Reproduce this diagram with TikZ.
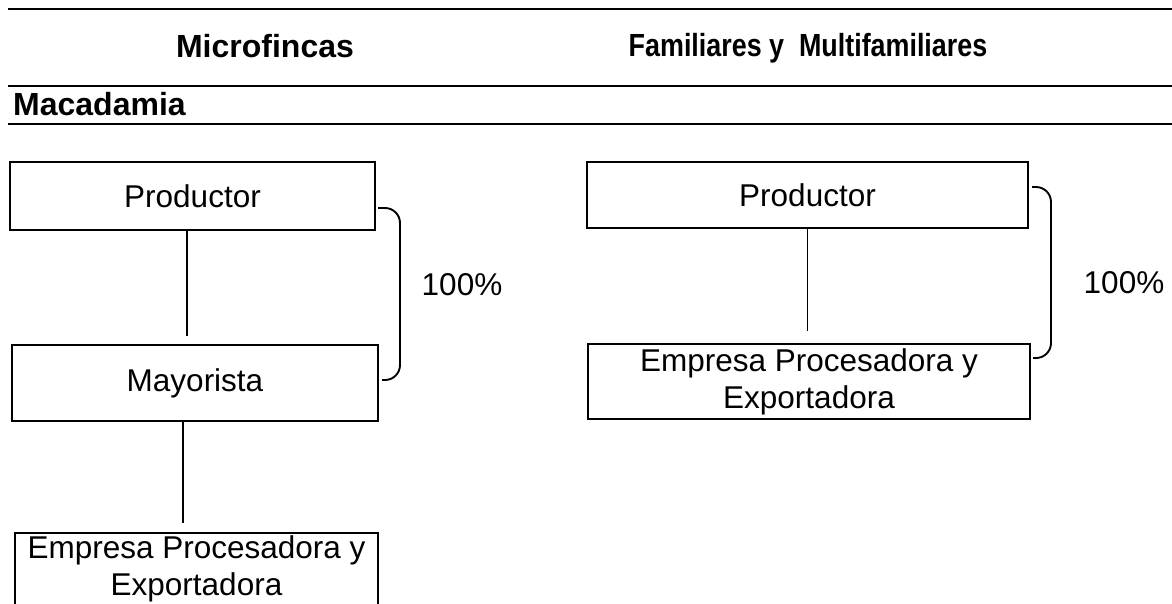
\documentclass[tikz,border=0pt]{standalone}
\usepackage{fontspec}
\setmainfont{Liberation Sans}
\newcommand\bodyfont{\fontsize{31.5}{37}\selectfont}
\newcommand\headfont{\fontsize{32}{38}\selectfont\bfseries}
\begin{document}
\begin{tikzpicture}[x=1pt,y=-1pt,
  rule/.style={draw=black, line width=1.8pt},
  box/.style={draw=black, line width=1.7pt, inner sep=0pt, align=center, font=\bodyfont},
  conn/.style={draw=black, line width=1.8pt},
  bracket/.style={draw=black, line width=1.9pt, rounded corners=15pt},
  pct/.style={font=\bodyfont, inner sep=0pt},
  head/.style={font=\headfont, inner sep=0pt}]
\clip (0,0) rectangle (1172,603);
\fill[white] (0,0) rectangle (1172,603);
% header rules
\coordinate (r1a) at (8,9);   \coordinate (r1b) at (1172,9);
\coordinate (r2a) at (8,86);  \coordinate (r2b) at (1172,86);
\coordinate (r3a) at (8,124); \coordinate (r3b) at (1172,124);
\draw[rule] (r1a) -- (r1b);
\draw[rule] (r2a) -- (r2b);
\draw[rule] (r3a) -- (r3b);
% headings
\node[head, anchor=base] (hMicro) at (265,57) {Microfincas};
\node[head, anchor=base] (hFam) at (808,56) {\scalebox{0.84}[1]{Familiares y\ \ Multifamiliares}};
\node[head, anchor=base west] (hMac) at (13,115) {Macadamia};
% left column
\node[box, minimum width=365pt, minimum height=68pt] (pL) at (192.5,196) {Productor};
\node[box, minimum width=366pt, minimum height=76pt] (mL) at (195,383) {Mayorista};
\node[box, minimum width=363pt, minimum height=110pt, anchor=north] (eL) at (196.5,532) {};
\node[font=\bodyfont, align=center, inner sep=0pt] (eLt) at (196.5,569) {Empresa Procesadora y\\Exportadora};
\draw[conn, shorten >=8pt] ([xshift=-5.5pt]pL.south) -- ([xshift=-5.5pt]pL.south |- mL.north);
\draw[conn, shorten >=9pt] ([xshift=-12pt]mL.south) -- ([xshift=-12pt]mL.south |- eL.north);
% left bracket
\coordinate (bL1) at (378,208);
\coordinate (bL2) at (400,208);
\coordinate (bL3) at (400,380);
\coordinate (bL4) at (382,380);
\draw[bracket] (bL1) -- (bL2) -- (bL3) -- (bL4);
\node[pct] (pctL) at (462,285) {100\%};
% right column
\node[box, minimum width=441pt, minimum height=66pt] (pR) at (807.5,195) {Productor};
\node[box, minimum width=442pt, minimum height=75pt] (eR) at (809,381.5) {Empresa Procesadora y\\Exportadora};
\draw[conn, shorten >=12pt] (pR.south) -- (pR.south |- eR.north);
% right bracket
\coordinate (bR1) at (1032,187);
\coordinate (bR2) at (1051,187);
\coordinate (bR3) at (1051,358);
\coordinate (bR4) at (1033,358);
\draw[bracket] (bR1) -- (bR2) -- (bR3) -- (bR4);
\node[pct] (pctR) at (1124,283) {100\%};
\end{tikzpicture}
\end{document}
